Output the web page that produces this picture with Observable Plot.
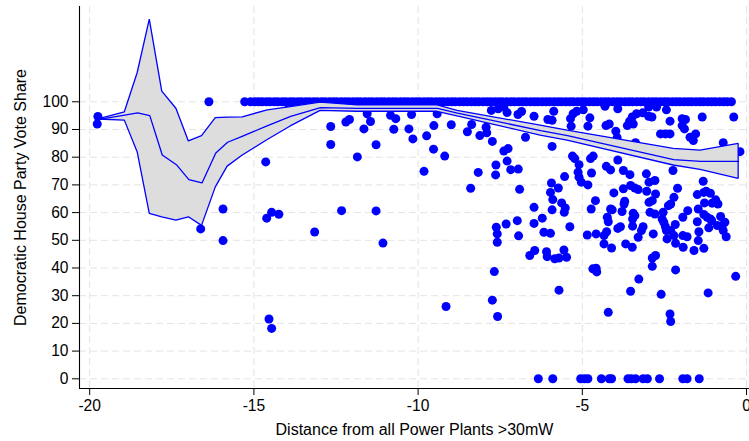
<!DOCTYPE html>
<html>
<head>
<meta charset="utf-8">
<script src="https://cdn.jsdelivr.net/npm/d3@7"></script>
<script src="https://cdn.jsdelivr.net/npm/@observablehq/plot@0.6"></script>
<style>
  html, body { margin: 0; padding: 0; background: #fff; }
  #chart { width: 749px; height: 441px; }
</style>
</head>
<body>
<div id="chart"></div>
<script>
// ---- tick labels ----
const xTicks = [-20, -15, -10, -5, 0];
const yTicks = [0, 10, 20, 30, 40, 50, 60, 70, 80, 90, 100];

// ---- confidence band + fitted line ----
const bandX   = [-19.76,-18.93,-18.54,-18.17,-17.79,-17.36,-16.98,-16.58,-16.16,-15.80,-15.34,-14.58,-13.88,-12.97,-11.84,-9.41,-8.80,-6.27,-5.45,-2.22,-1.40,-0.24];
const bandHi  = [93.6,96.2,110.3,129.7,103.7,97.5,85.7,87.6,94.1,94.3,94.4,96.9,98.1,99.7,98.7,98.7,96.7,91.4,89.6,83.0,82.4,84.8];
const bandMid = [93.6,95.2,96.0,95.0,80.8,77.3,71.9,70.7,81.5,85.4,87.6,91.4,94.7,97.9,97.6,97.6,95.9,89.6,87.8,79.1,78.5,78.5];
const bandLo  = [93.6,93.2,81.8,59.5,58.3,57.1,58.3,55.2,69.1,76.6,80.6,86.2,91.1,96.7,96.4,96.4,94.7,87.8,86.0,77.0,75.4,72.2];

// ---- districts with 100% vote share (dense row) ----
const fullShareX = [-15.10,-14.97,-14.86,-14.75,-14.62,-14.51,-14.38,-14.27,-14.14,-14.03,-13.90,-13.79,-13.66,-13.55,-13.42,-13.31,-13.18,-13.07,-12.94,-12.83,-12.70,-12.58,-12.47,-12.34,-12.22,-12.11,-11.98,-11.86,-11.75,-11.62,-11.50,-11.39,-11.26,-11.14,-11.03,-10.90,-10.78,-10.67,-10.54,-10.42,-10.31,-10.18,-10.06,-9.95,-9.82,-9.70,-9.59,-9.46,-9.34,-9.23,-9.10,-8.98,-8.87,-8.74,-8.62,-8.51,-8.38,-8.26,-8.15,-8.02,-7.90,-7.79,-7.66,-7.54,-7.43,-7.30,-7.18,-7.07,-6.94,-6.82,-6.71,-6.58,-6.46,-6.35,-6.22,-6.10,-5.99,-5.86,-5.74,-5.63,-5.50,-5.38,-5.27,-5.14,-5.02,-4.91,-4.78,-4.66,-4.55,-4.42,-4.30,-4.19,-4.06,-3.94,-3.83,-3.70,-3.58,-3.47,-3.34,-3.22,-3.11,-2.98,-2.86,-2.75,-2.62,-2.50,-2.39,-2.26,-2.14,-2.03,-1.90,-1.78,-1.67,-1.54,-1.42,-1.31,-1.18,-1.06,-0.95,-0.82,-0.70,-0.59,-0.46];

// ---- districts with 0% vote share ----
const zeroShareX = [-6.34,-5.90,-5.05,-4.93,-4.83,-4.42,-4.18,-4.11,-3.61,-3.51,-3.38,-3.15,-3.02,-2.65,-1.94,-1.81,-1.44];

// ---- remaining districts: distance / vote share ----
const distX = [
  -19.75,-19.77,-16.37,-16.62,-15.94,-15.94,-15.28,-14.61,-14.46,-14.24,-13.15,-12.33,-14.54,-14.46,-14.64,-12.66,-12.66,-12.20,-12.09,-11.85,-13.93,
  -11.65,-11.45,-11.55,-11.28,-10.84,-10.68,-10.74,-10.28,-10.20,-10.16,-9.82,-9.74,-9.52,-9.53,-9.42,-9.19,-8.99,-8.50,-8.37,-8.17,-8.40,-8.12,-7.93,-7.91,-7.77,-7.56,-7.39,-7.29,-7.74,-7.39,-7.26,-7.63,-7.64,-7.29,-7.18,-6.95,-6.91,-6.96,-6.85,-6.47,-6.05,-11.28,-11.07,-9.15,-7.62,-7.59,-7.59,-7.32,-6.98,-6.94,-6.47,-6.47,-6.22,-6.17,-6.60,-6.45,-6.09,-6.07,-7.68,-7.74,-7.58,-6.73,
  -5.87,-5.92,-5.92,-5.36,-5.28,-5.17,-4.97,-4.77,-4.83,-5.34,-4.31,-3.92,-4.28,-4.18,-3.98,-3.94,-3.63,-3.56,-3.45,-3.48,-3.35,-3.16,-2.98,-2.88,-2.98,-2.74,-2.44,-2.33,-2.62,-2.47,-2.33,-1.96,-1.86,-1.96,-1.89,-1.72,-1.62,-1.55,-1.35,-0.39,-0.71,-0.20,-3.38,
  -5.30,-5.23,-4.75,-4.67,-3.92,-4.72,-5.10,-5.13,-5.10,-5.03,-5.54,-4.83,-4.27,-4.14,-3.75,-3.55,-3.05,-2.97,-2.79,-2.24,-1.32,-5.94,-5.73,-5.97,-5.90,-5.92,-5.63,-5.52,-5.55,-5.97,-5.38,-5.84,-5.71,-5.56,-5.48,
  -4.04,-3.75,-3.53,-3.40,-3.30,-3.04,-2.77,-2.97,-2.87,-3.71,-3.73,-4.60,-4.73,-4.14,-4.09,-3.79,-4.24,-4.21,-3.45,-3.40,-3.47,-2.94,-2.79,-2.54,-2.38,-2.31,-2.21,-2.10,-1.79,-1.50,-1.30,-1.23,-1.10,-1.28,-1.05,-0.94,-0.87,-1.47,-1.30,-1.20,-1.10,-1.06,-1.50,-0.79,-0.89,-0.74,-0.66,-0.71,-0.62,-1.15,-1.45,-1.47,-1.30,-1.60,-1.94,-1.81,-1.93,-2.16,
  -2.47,-2.52,-2.44,-2.31,-2.17,-2.57,-2.21,-2.42,-3.84,-3.92,-3.15,-3.20,-3.30,-4.58,-4.34,-4.26,-4.34,-4.11,-4.85,-3.68,-3.48,-2.84,-2.77,-2.87,-1.94,-3.47,
  -0.33,-1.17,-2.16,-2.87,-3.28,-3.53,-2.60,-4.21,-2.33,-2.31,-4.68,-4.58,-4.56,-5.71
];
const voteY = [
  94.7,92.0,100,54.1,61.3,49.9,100,58.0,60.1,59.4,53.0,60.7,21.6,18.2,78.3,91.1,84.6,92.7,93.6,80.1,98.7,
  90.2,92.9,95.7,84.5,95.1,93.9,90.1,90.2,95.4,86.6,74.9,87.7,91.4,82.9,95.7,80.4,91.7,89.2,91.8,74.5,68.8,87.8,90.8,88.8,96.9,97.5,98.1,96.1,85.7,82.2,83.1,77.2,73.6,78.6,75.5,75.7,68.4,95.4,96.5,94.8,93.6,60.6,49.0,26.1,54.7,52.3,49.3,55.9,57.1,51.6,61.9,56.1,58.0,52.9,44.5,46.3,45.9,44.1,38.7,28.4,22.5,87.2,
  96.6,93.3,83.9,93.9,95.7,96.6,97.1,94.2,91.2,91.2,98.4,97.5,91.4,92.0,89.4,87.0,91.4,93.0,92.0,94.5,95.7,96.0,94.8,94.5,98.1,98.1,97.1,93.0,88.4,88.4,88.4,93.9,93.6,91.4,90.2,87.2,86.0,88.4,94.5,94.5,85.2,82.0,85.2,
  80.4,79.5,79.5,80.4,79.0,74.3,77.3,74.6,72.8,71.0,73.0,70.0,76.7,75.4,75.2,73.7,74.0,71.0,71.6,75.2,71.3,70.7,68.9,67.3,64.7,61.0,63.5,61.7,60.1,52.5,54.9,43.3,43.6,46.5,43.9,
  67.1,68.6,69.8,68.9,68.3,67.7,66.7,63.7,64.3,64.1,63.1,64.3,61.3,61.3,61.0,60.4,58.3,56.7,59.8,58.9,57.7,60.1,59.5,60.1,62.5,63.1,65.5,68.8,60.7,66.5,67.3,67.7,67.0,63.5,63.4,64.6,63.1,61.3,59.3,58.3,57.7,57.1,56.7,58.6,55.3,55.3,56.5,53.5,51.3,54.5,53.1,49.9,47.1,46.3,51.7,51.3,47.5,48.9,
  54.9,56.5,53.5,53.5,55.7,57.7,51.7,50.5,54.9,54.3,54.9,53.5,51.1,52.3,51.7,53.1,48.7,47.2,51.9,48.7,47.5,52.3,44.5,43.6,58.3,55.1,
  37.0,31.0,39.3,40.6,36.0,31.6,30.5,24.0,23.4,20.7,39.7,39.9,38.6,32.0
];

const points = [
  ...distX.map((x, i) => ({x, y: voteY[i]})),
  ...fullShareX.map(x => ({x, y: 100})),
  ...zeroShareX.map(x => ({x, y: 0}))
];
const band = bandX.map((x, i) => ({x, hi: bandHi[i], mid: bandMid[i], lo: bandLo[i]}));

const X0 = -20.31, X1 = 0.09, Y0 = -3.5, Y1 = 134.4;
const BLUE = "#0000ff";
const gridStyle = {stroke: "#e4e4e4", strokeOpacity: 1, strokeWidth: 1, strokeDasharray: "7,4"};

const chart = Plot.plot({
  width: 749,
  height: 441,
  marginLeft: 79,
  marginRight: 0,
  marginTop: 6,
  marginBottom: 53,
  style: {fontFamily: "'Liberation Sans', Arial, Helvetica, sans-serif", background: "#ffffff", color: "#000000", overflow: "visible"},
  x: {domain: [X0, X1]},
  y: {domain: [Y0, Y1]},
  marks: [
    Plot.gridY(yTicks, gridStyle),
    Plot.gridX(xTicks, gridStyle),
    Plot.dot(points, {x: "x", y: "y", r: 4.5, fill: BLUE, stroke: "none"}),
    Plot.areaY(band, {x: "x", y1: "lo", y2: "hi", fill: "#dddddd", stroke: BLUE, strokeWidth: 1.3, strokeLinejoin: "miter"}),
    Plot.lineY(band, {x: "x", y: "mid", stroke: BLUE, strokeWidth: 1.3}),
    Plot.ruleX([X0], {stroke: "#000", strokeWidth: 1.1}),
    Plot.ruleY([Y0], {stroke: "#000", strokeWidth: 1.1}),
    Plot.axisX(xTicks, {tickSize: 7, tickPadding: 4, fontSize: 15.6, label: null, tickFormat: d => String(d).replace("−", "-")}),
    Plot.axisY(yTicks, {tickSize: 7, tickPadding: 4, fontSize: 15.6, label: null}),
    Plot.text(["Distance from all Power Plants >30mW"], {text: d => d, frameAnchor: "bottom", textAnchor: "middle", lineAnchor: "middle", dy: 41, fontSize: 16}),
    Plot.text(["Democratic House Party Vote Share"], {text: d => d, frameAnchor: "left", textAnchor: "middle", lineAnchor: "middle", dx: -59, rotate: -90, fontSize: 16})
  ]
});
document.getElementById("chart").appendChild(chart);
</script>
</body>
</html>
